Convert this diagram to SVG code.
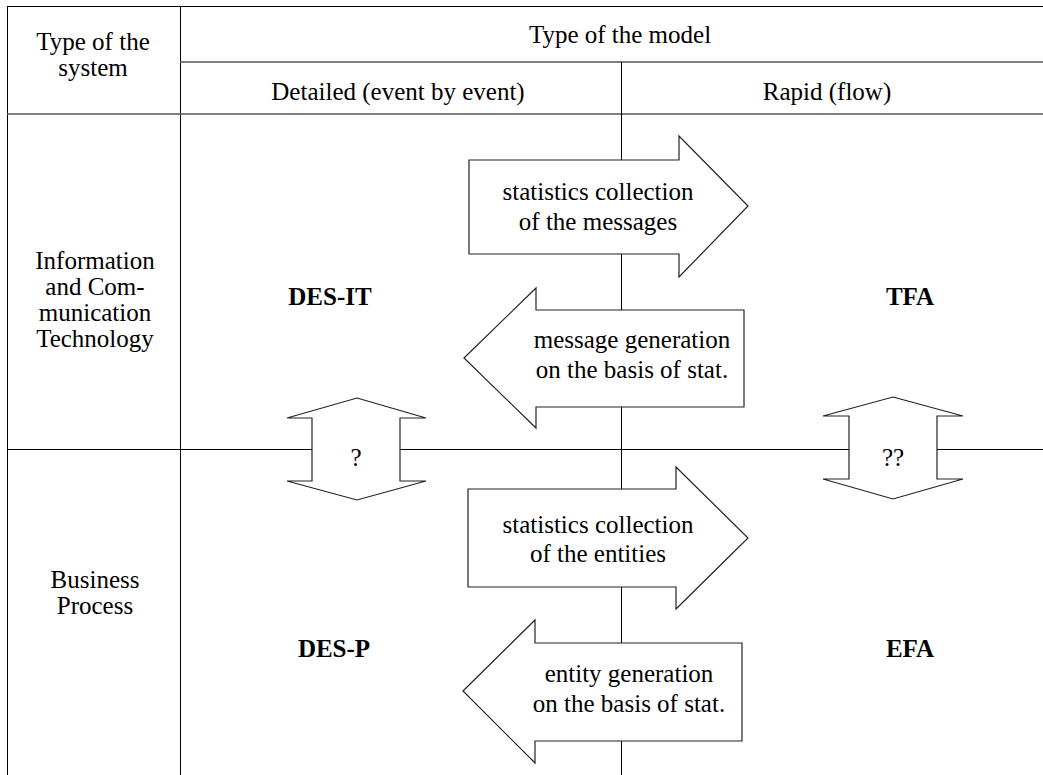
<svg xmlns="http://www.w3.org/2000/svg" width="1043" height="775" viewBox="0 0 1043 775">
<style>
.t{font-family:"Liberation Serif","Times New Roman",serif;font-size:25px;fill:#000;text-anchor:middle}
.b{font-weight:bold}
.grid{stroke:#000;stroke-width:1;fill:none}
.grid2{stroke:#555;stroke-width:1.5;fill:none}
.shape{fill:#fff;stroke:#222;stroke-width:1.2;stroke-linejoin:miter}
</style>
<rect width="1043" height="775" fill="#fff"/>
<g id="table">
<line class="grid" x1="7" y1="6.5" x2="1043" y2="6.5"/>
<line class="grid" x1="7.5" y1="6" x2="7.5" y2="775"/>
<line class="grid" x1="180.5" y1="6" x2="180.5" y2="775"/>
<line class="grid2" x1="180" y1="62" x2="1043" y2="62"/>
<line class="grid2" x1="7" y1="114" x2="1043" y2="114"/>
<line class="grid" x1="621.5" y1="62" x2="621.5" y2="775"/>
<line class="grid" x1="7" y1="449.5" x2="1043" y2="449.5"/>
<text class="t" x="93" y="50">Type of the</text>
<text class="t" x="93" y="76">system</text>
<text class="t" x="620" y="43">Type of the model</text>
<text class="t" x="398" y="100">Detailed (event by event)</text>
<text class="t" x="827" y="100">Rapid (flow)</text>
<text class="t" x="95" y="269">Information</text>
<text class="t" x="95" y="295">and Com-</text>
<text class="t" x="95" y="321">munication</text>
<text class="t" x="95" y="347">Technology</text>
<text class="t" x="95" y="588">Business</text>
<text class="t" x="95" y="614">Process</text>
</g>
<g id="DES-IT"><text class="t b" x="330" y="305">DES-IT</text></g>
<g id="TFA"><text class="t b" x="910" y="305">TFA</text></g>
<g id="DES-P"><text class="t b" x="334" y="657">DES-P</text></g>
<g id="EFA"><text class="t b" x="910" y="657">EFA</text></g>
<g id="connectors">
<g id="arrow-stat-messages">
<polygon class="shape" points="469,160 679,160 679,136 748,206 679,277 679,254 469,254"/>
<text class="t" x="598" y="200">statistics collection</text>
<text class="t" x="598" y="230">of the messages</text>
</g>
<g id="arrow-msg-gen">
<polygon class="shape" points="464,358 536,288 536,310 744,310 744,407 536,407 536,428"/>
<text class="t" x="632" y="348">message generation</text>
<text class="t" x="632" y="378">on the basis of stat.</text>
</g>
<g id="arrow-stat-entities">
<polygon class="shape" points="468,489 676,489 676,467 748,538 676,609 676,587 468,587"/>
<text class="t" x="598" y="533">statistics collection</text>
<text class="t" x="598" y="562">of the entities</text>
</g>
<g id="arrow-entity-gen">
<polygon class="shape" points="463,691 535,620 535,643 742,643 742,741 535,741 535,763"/>
<text class="t" x="629" y="682">entity generation</text>
<text class="t" x="629" y="712">on the basis of stat.</text>
</g>
<g id="dbl-left">
<polygon class="shape" points="357,398 426,418 400,418 400,481 426,481 357,500 287,481 312,481 312,418 287,418"/>
<text class="t" x="356" y="466">?</text>
</g>
<g id="dbl-right">
<polygon class="shape" points="893,397 963,416 937,416 937,479 963,479 893,499 823,479 849,479 849,416 823,416"/>
<text class="t" x="893" y="466">??</text>
</g>
</g>
</svg>
